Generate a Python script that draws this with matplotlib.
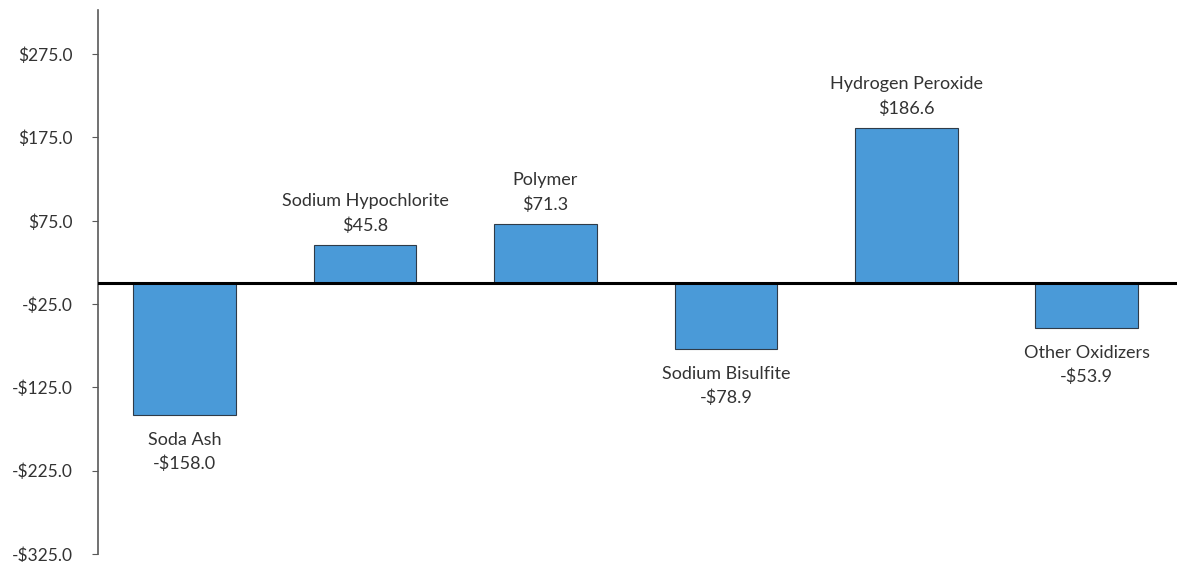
import matplotlib
matplotlib.use("Agg")
import matplotlib.pyplot as plt
import numpy as np

categories = ["Soda Ash", "Sodium Hypochlorite", "Polymer", "Sodium Bisulfite",
              "Hydrogen Peroxide", "Other Oxidizers"]
values = [-158.0, 45.8, 71.3, -78.9, 186.6, -53.9]
yticks = [275, 175, 75, -25, -125, -225, -325]

plt.rcParams['font.family'] = ['Lato', 'DejaVu Sans']

fig = plt.figure(figsize=(11.77, 5.62), dpi=100)
ax = fig.add_axes([0.0833, 0.0142, 0.9167, 0.9680])

x = np.arange(len(categories))
ax.bar(x, values, width=0.57, color="#4a9ad8", edgecolor="#2f3b48", linewidth=0.8, zorder=2)
ax.axhline(0, color="black", linewidth=2.2, zorder=3)

for xi, v, name in zip(x, values, categories):
    label = f"{name}\n{'-' if v < 0 else ''}${abs(v):.1f}"
    if v >= 0:
        ax.annotate(label, (xi, v), xytext=(0, 8), textcoords="offset points",
                    ha="center", va="bottom", fontsize=13, color="#333333", linespacing=1.6)
    else:
        ax.annotate(label, (xi, v), xytext=(0, -12), textcoords="offset points",
                    ha="center", va="top", fontsize=13, color="#333333", linespacing=1.6)

ax.set_xlim(-0.48, 5.5)
ax.set_ylim(-325, 328)
ax.set_yticks(yticks)
ax.set_yticklabels([f"{'-' if t < 0 else ''}${abs(t):.1f}" for t in yticks])
ax.set_xticks([])
ax.tick_params(axis="y", direction="out", length=4, color="#595959", labelsize=12.5,
               labelcolor="#333333", pad=14)
for s in ["top", "right", "bottom"]:
    ax.spines[s].set_visible(False)
ax.spines["left"].set_color("#595959")
ax.spines["left"].set_linewidth(1.2)

fig.savefig("out.png", dpi=100)
